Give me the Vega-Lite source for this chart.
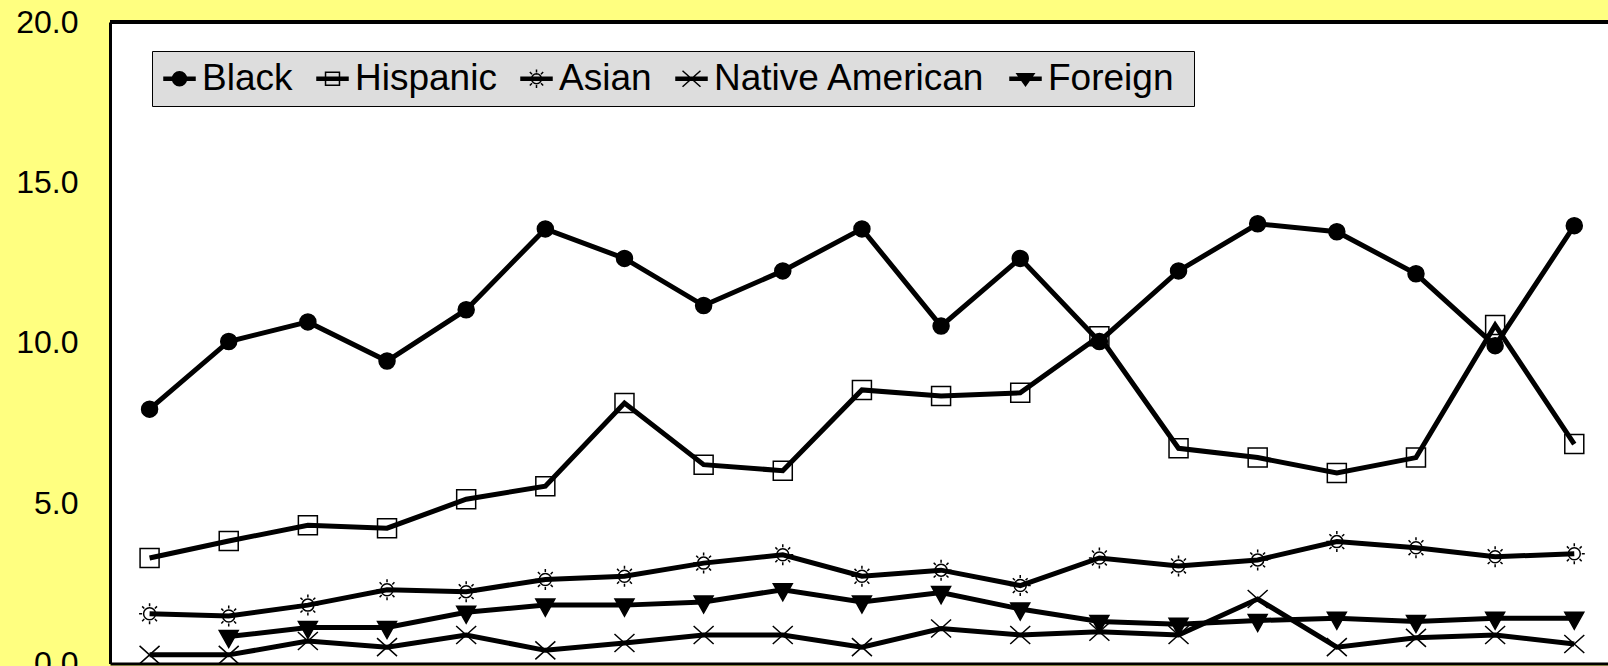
{
  "$schema": "https://vega.github.io/schema/vega-lite/v6.json",
  "width": 1498,
  "height": 641.5,
  "autosize": {"type": "none"},
  "padding": {"left": 110, "top": 22, "right": 0, "bottom": 2.5},
  "background": "#FFFF80",
  "config": {"view": {"fill": "white", "stroke": null}, "font": "Liberation Sans"},
  "data": {"values": [
    {"i":1,"g":"Black","v":7.93},{"i":2,"g":"Black","v":10.04},{"i":3,"g":"Black","v":10.65},{"i":4,"g":"Black","v":9.43},{"i":5,"g":"Black","v":11.03},{"i":6,"g":"Black","v":13.55},{"i":7,"g":"Black","v":12.63},{"i":8,"g":"Black","v":11.16},{"i":9,"g":"Black","v":12.24},{"i":10,"g":"Black","v":13.55},{"i":11,"g":"Black","v":10.52},{"i":12,"g":"Black","v":12.63},{"i":13,"g":"Black","v":10.04},{"i":14,"g":"Black","v":12.24},{"i":15,"g":"Black","v":13.71},{"i":16,"g":"Black","v":13.46},{"i":17,"g":"Black","v":12.15},{"i":18,"g":"Black","v":9.91},{"i":19,"g":"Black","v":13.65},
    {"i":1,"g":"Hispanic","v":3.29},{"i":2,"g":"Hispanic","v":3.82},{"i":3,"g":"Hispanic","v":4.31},{"i":4,"g":"Hispanic","v":4.22},{"i":5,"g":"Hispanic","v":5.12},{"i":6,"g":"Hispanic","v":5.53},{"i":7,"g":"Hispanic","v":8.12},{"i":8,"g":"Hispanic","v":6.20},{"i":9,"g":"Hispanic","v":6.01},{"i":10,"g":"Hispanic","v":8.53},{"i":11,"g":"Hispanic","v":8.34},{"i":12,"g":"Hispanic","v":8.44},{"i":13,"g":"Hispanic","v":10.20},{"i":14,"g":"Hispanic","v":6.71},{"i":15,"g":"Hispanic","v":6.42},{"i":16,"g":"Hispanic","v":5.94},{"i":17,"g":"Hispanic","v":6.42},{"i":18,"g":"Hispanic","v":10.55},{"i":19,"g":"Hispanic","v":6.84},
    {"i":1,"g":"Asian","v":1.55},{"i":2,"g":"Asian","v":1.48},{"i":3,"g":"Asian","v":1.82},{"i":4,"g":"Asian","v":2.30},{"i":5,"g":"Asian","v":2.24},{"i":6,"g":"Asian","v":2.62},{"i":7,"g":"Asian","v":2.72},{"i":8,"g":"Asian","v":3.13},{"i":9,"g":"Asian","v":3.39},{"i":10,"g":"Asian","v":2.72},{"i":11,"g":"Asian","v":2.91},{"i":12,"g":"Asian","v":2.43},{"i":13,"g":"Asian","v":3.29},{"i":14,"g":"Asian","v":3.04},{"i":15,"g":"Asian","v":3.23},{"i":16,"g":"Asian","v":3.80},{"i":17,"g":"Asian","v":3.61},{"i":18,"g":"Asian","v":3.33},{"i":19,"g":"Asian","v":3.42},
    {"i":1,"g":"Native American","v":0.27},{"i":2,"g":"Native American","v":0.27},{"i":3,"g":"Native American","v":0.70},{"i":4,"g":"Native American","v":0.51},{"i":5,"g":"Native American","v":0.89},{"i":6,"g":"Native American","v":0.41},{"i":7,"g":"Native American","v":0.64},{"i":8,"g":"Native American","v":0.89},{"i":9,"g":"Native American","v":0.89},{"i":10,"g":"Native American","v":0.51},{"i":11,"g":"Native American","v":1.09},{"i":12,"g":"Native American","v":0.89},{"i":13,"g":"Native American","v":0.99},{"i":14,"g":"Native American","v":0.89},{"i":15,"g":"Native American","v":2.01},{"i":16,"g":"Native American","v":0.51},{"i":17,"g":"Native American","v":0.80},{"i":18,"g":"Native American","v":0.89},{"i":19,"g":"Native American","v":0.61},
    {"i":2,"g":"Foreign","v":0.84},{"i":3,"g":"Foreign","v":1.12},{"i":4,"g":"Foreign","v":1.12},{"i":5,"g":"Foreign","v":1.60},{"i":6,"g":"Foreign","v":1.82},{"i":7,"g":"Foreign","v":1.82},{"i":8,"g":"Foreign","v":1.92},{"i":9,"g":"Foreign","v":2.30},{"i":10,"g":"Foreign","v":1.92},{"i":11,"g":"Foreign","v":2.21},{"i":12,"g":"Foreign","v":1.70},{"i":13,"g":"Foreign","v":1.31},{"i":14,"g":"Foreign","v":1.22},{"i":15,"g":"Foreign","v":1.34},{"i":16,"g":"Foreign","v":1.41},{"i":17,"g":"Foreign","v":1.31},{"i":18,"g":"Foreign","v":1.41},{"i":19,"g":"Foreign","v":1.41}
  ]},
  "layer": [
    {
      "mark": {"type": "rule", "color": "black", "strokeWidth": 3},
      "encoding": {
        "y": {"datum": 20, "type": "quantitative", "scale": {"domain": [0, 20], "nice": false},
          "axis": {"title": null, "values": [0, 5, 10, 15, 20], "format": ".1f", "ticks": false, "tickSize": 0, "labelPadding": 32, "labelFontSize": 32, "labelFont": "Liberation Sans", "labelColor": "black", "domainColor": "black", "domainWidth": 3, "grid": false, "labelFlush": false, "labelOverlap": false}}
      }
    },
    {
      "mark": {"type": "line", "color": "black", "strokeWidth": 5},
      "encoding": {
        "x": {"field": "i", "type": "quantitative", "scale": {"domain": [0.5, 19.426], "nice": false, "zero": false},
          "axis": {"title": null, "labels": false, "ticks": false, "grid": false, "domainColor": "black", "domainWidth": 3}},
        "y": {"field": "v", "type": "quantitative", "scale": {"domain": [0, 20], "nice": false},
          "axis": {"title": null, "values": [0, 5, 10, 15, 20], "format": ".1f", "ticks": false, "tickSize": 0, "labelPadding": 32, "labelFontSize": 32, "labelFont": "Liberation Sans", "labelColor": "black", "domainColor": "black", "domainWidth": 3, "grid": false, "labelFlush": false, "labelOverlap": false}},
        "detail": {"field": "g", "type": "nominal"}
      }
    },
    {
      "mark": {"type": "point", "stroke": "black", "strokeWidth": 1.5, "opacity": 1, "size": 400},
      "encoding": {
        "x": {"field": "i", "type": "quantitative"},
        "y": {"field": "v", "type": "quantitative"},
        "fill": {"field": "g", "type": "nominal", "legend": null,
          "scale": {"domain": ["Black", "Hispanic", "Asian", "Native American", "Foreign"], "range": ["black", "transparent", "transparent", "transparent", "black"]}},
        "shape": {"field": "g", "type": "nominal", "legend": null,
          "scale": {"domain": ["Black", "Hispanic", "Asian", "Native American", "Foreign"],
            "range": [
              "M0.8,0A0.8,0.8,0,1,1,-0.8,0A0.8,0.8,0,1,1,0.8,0Z",
              "M-0.95,-0.95H0.95V0.95H-0.95Z",
              "M0.6,0A0.6,0.6,0,1,1,-0.6,0A0.6,0.6,0,1,1,0.6,0ZM0,-0.75V-1.05M0,0.75V1.05M-0.75,0H-1.05M0.75,0H1.05M0.53,0.53L0.74,0.74M-0.53,-0.53L-0.74,-0.74M0.53,-0.53L0.74,-0.74M-0.53,0.53L-0.74,0.74",
              "M-1,-0.9L1,0.9M-1,0.9L1,-0.9",
              "M-0.95,-0.6H0.95L0,1.1Z"
            ]}}
      }
    },
    {
      "transform": [{"filter": "datum.i > 100"}],
      "mark": {"type": "point", "filled": true, "color": "black", "stroke": "black", "strokeWidth": 1.2, "opacity": 1},
      "encoding": {
        "x": {"field": "i", "type": "quantitative"},
        "y": {"field": "v", "type": "quantitative"},
        "shape": {"field": "g", "type": "nominal",
          "scale": {"domain": ["Black", "Hispanic", "Asian", "Native American", "Foreign"],
            "range": [
              "M-1,-0.09H1V0.09H-1ZM0.45,0A0.45,0.45,0,1,1,-0.45,0A0.45,0.45,0,1,1,0.45,0Z",
              "M-1,-0.09H1V0.09H-1ZM-0.45,-0.42H0.45V0.42H-0.45ZM-0.45,-0.42V0.42H0.45V-0.42Z",
              "M-1,-0.09H1V0.09H-1ZM0.32,0A0.32,0.32,0,1,1,-0.32,0A0.32,0.32,0,1,1,0.32,0ZM0.32,0A0.32,0.32,0,1,0,-0.32,0A0.32,0.32,0,1,0,0.32,0ZM0,-0.4V-0.6M0,0.4V0.6M0.29,0.29L0.43,0.43M-0.29,-0.29L-0.43,-0.43M0.29,-0.29L0.43,-0.43M-0.29,0.29L-0.43,0.43",
              "M-1,-0.09H1V0.09H-1ZM-0.58,-0.52L0.58,0.52M-0.58,0.52L0.58,-0.52",
              "M-1,-0.09H1V0.09H-1ZM-0.55,-0.32H0.55L0,0.45Z"
            ]},
          "legend": {
            "title": " ", "titleOrient": "right", "titlePadding": 12, "titleFontSize": 8,
            "orient": "none", "legendX": 42, "legendY": 29, "direction": "horizontal", "columns": 5,
            "fillColor": "#DDDDDD", "strokeColor": "black", "padding": 9, "columnPadding": 21,
            "labelFontSize": 37, "labelFont": "Liberation Sans", "labelColor": "black", "labelOffset": 4, "labelLimit": 500,
            "symbolSize": 961,
            "encode": {"legend": {"strokeWidth": {"value": 2}}}
          }
        }
      }
    }
  ],
  "resolve": {"scale": {"shape": "independent"}}
}
